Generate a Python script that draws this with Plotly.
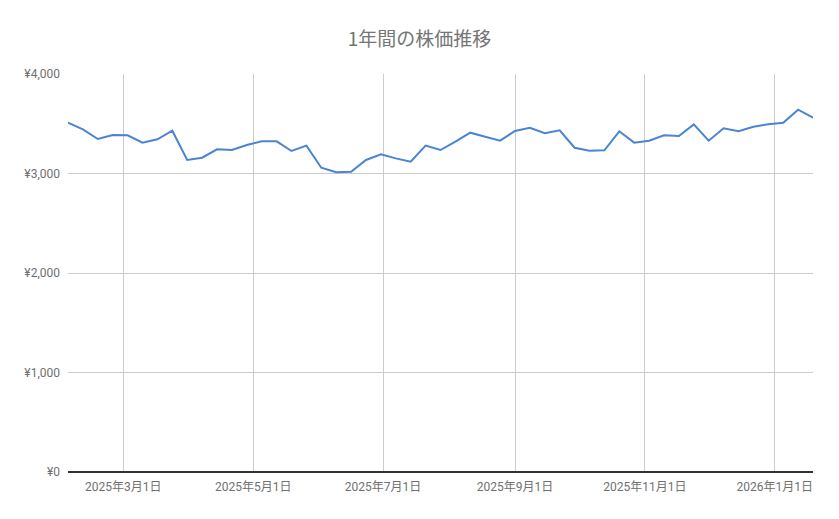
import pandas as pd
import plotly.graph_objects as go

# weekly closing prices
start_date = "2025-02-03"
prices = [3510, 3444, 3347, 3387, 3384, 3310, 3344, 3430, 3136, 3159,
          3243, 3236, 3286, 3323, 3323, 3226, 3280, 3058, 3012, 3018,
          3136, 3193, 3152, 3119, 3280, 3236, 3320, 3410, 3370, 3330,
          3427, 3460, 3404, 3434, 3259, 3229, 3233, 3424, 3310, 3330,
          3384, 3377, 3494, 3330, 3454, 3424, 3470, 3494, 3510, 3641,
          3561]
dates = pd.date_range(start_date, periods=len(prices), freq="7D")

tick_dates = ["2025-03-01", "2025-05-01", "2025-07-01", "2025-09-01",
              "2025-11-01", "2026-01-01"]
tick_labels = ["2025年3月1日", "2025年5月1日", "2025年7月1日", "2025年9月1日",
               "2025年11月1日", "2026年1月1日"]
y_ticks = [0, 1000, 2000, 3000, 4000]
y_labels = ["¥0", "¥1,000", "¥2,000", "¥3,000", "¥4,000"]

font = "Roboto, 'Noto Sans CJK JP', sans-serif"

fig = go.Figure()
fig.add_trace(go.Scatter(x=dates, y=prices, mode="lines",
                         line=dict(color="#4a84d2", width=2),
                         hoverinfo="x+y"))

# page body has an 8px margin, so the margins are shifted to compensate
fig.update_layout(
    width=839, height=519,
    margin=dict(l=60, r=34, t=66, b=55),
    paper_bgcolor="white", plot_bgcolor="white",
    showlegend=False,
    font=dict(family=font, color="#757575", size=12),
    title=dict(text="1年間の株価推移", x=0.4905, xanchor="center",
               y=0.94, yanchor="middle",
               font=dict(family="'Noto Sans CJK JP', sans-serif", size=19, color="#757575")),
)
fig.update_xaxes(
    range=[dates[0], dates[-1]],
    tickvals=pd.to_datetime(tick_dates), ticktext=tick_labels,
    showgrid=True, gridcolor="#cccccc", gridwidth=1,
    showline=False, zeroline=False, ticks="", ticklabelstandoff=6,
    tickfont=dict(size=12, color="#707070"),
)
fig.update_yaxes(
    range=[0, 4000],
    tickvals=y_ticks, ticktext=y_labels,
    showgrid=True, gridcolor="#cccccc", gridwidth=1,
    zeroline=True, zerolinecolor="#333333", zerolinewidth=1.5,
    showline=False, ticks="", ticklabelstandoff=7,
    tickfont=dict(size=12, color="#707070"),
)

fig.write_html("out.html")
